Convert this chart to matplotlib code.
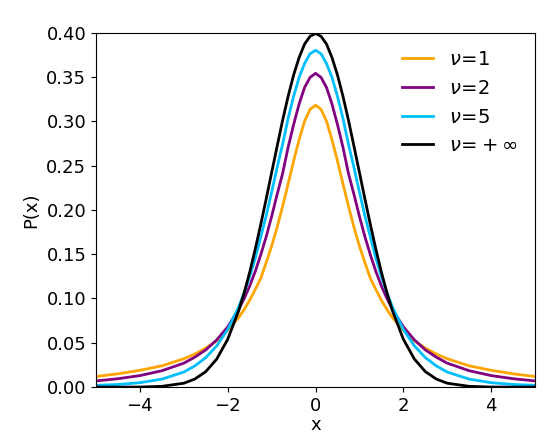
import numpy as np
import matplotlib
matplotlib.use('Agg')
import matplotlib.pyplot as plt

# positive half of x (curves are symmetric)
x_half = [0, 0.125, 0.25, 0.375, 0.5, 0.625, 0.75, 0.875, 1, 1.125, 1.25, 1.375, 1.5, 1.625, 1.75,
          2, 2.25, 2.5, 2.75, 3, 3.5, 4, 4.5, 5]
p_nu1 = [0.318, 0.3134, 0.300, 0.279, 0.255, 0.2292, 0.204, 0.1804, 0.159, 0.1404, 0.1225, 0.110, 0.098, 0.0876, 0.0786,
         0.064, 0.0523, 0.044, 0.0373, 0.032, 0.024, 0.019, 0.015, 0.012]
p_nu2 = [0.354, 0.3494, 0.338, 0.3193, 0.296, 0.2705, 0.241, 0.2174, 0.1925, 0.1695, 0.149, 0.1303, 0.114, 0.100, 0.0878,
         0.068, 0.0533, 0.042, 0.0338, 0.027, 0.0185, 0.013, 0.0095, 0.007]
p_nu5 = [0.380, 0.3761, 0.365, 0.3493, 0.328, 0.3029, 0.274, 0.2477, 0.220, 0.193, 0.169, 0.1451, 0.1245, 0.1064, 0.0905,
         0.065, 0.0466, 0.0333, 0.0239, 0.017, 0.009, 0.005, 0.003, 0.002]
p_inf = [0.399, 0.3958, 0.387, 0.3717, 0.352, 0.328, 0.301, 0.2717, 0.242, 0.2121, 0.183, 0.1553, 0.1295, 0.1065, 0.0863,
         0.054, 0.0317, 0.0175, 0.0091, 0.0044, 0.0009, 0.0001, 0.0, 0.0]

labels = [r'$\nu\!=\!1$', r'$\nu\!=\!2$', r'$\nu\!=\!5$', r'$\nu\!=\!+\infty$']
colors = ['orange', 'purple', '#00bfff', 'black']


def full(v):
    return np.concatenate([v[:0:-1], v])


xs = np.concatenate([-np.array(x_half[:0:-1]), x_half])

fig = plt.figure(figsize=(5.58, 4.46), dpi=100)
ax = fig.add_axes([0.172, 0.132, 0.787, 0.795])
for series, c, lab in zip([p_nu1, p_nu2, p_nu5, p_inf], colors, labels):
    ax.plot(xs, full(series), color=c, lw=2, label=lab)

ax.set_xlim(-5, 5)
ax.set_ylim(0, 0.40)
ax.set_xticks([-4, -2, 0, 2, 4])
ax.set_yticks(np.arange(0, 0.401, 0.05))
ax.set_yticklabels(['%.2f' % t for t in np.arange(0, 0.401, 0.05)])
ax.tick_params(labelsize=13)
ax.set_xlabel('x', fontsize=13, labelpad=1)
ax.set_ylabel('P(x)', fontsize=13)
ax.legend(loc='upper right', frameon=False, fontsize=14, handlelength=1.6)
fig.savefig('out.png', dpi=100)
